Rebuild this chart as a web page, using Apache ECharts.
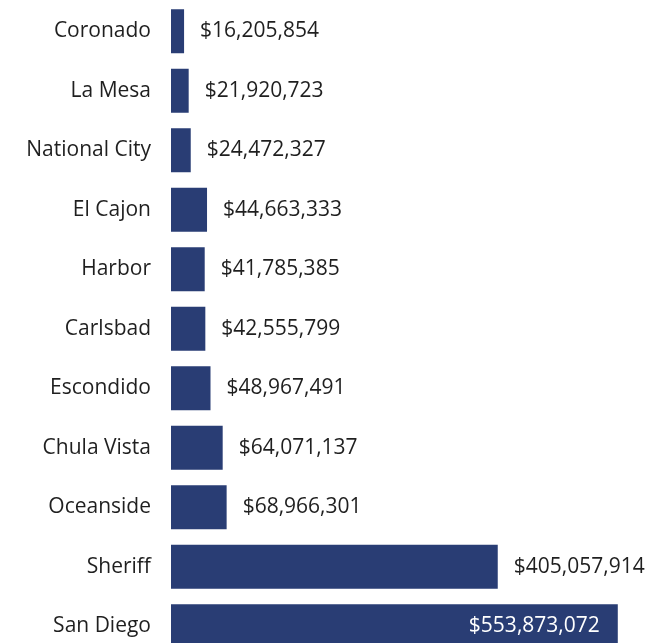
<!DOCTYPE html>
<html>
<head>
<meta charset="utf-8">
<script src="https://cdn.jsdelivr.net/npm/echarts@6/dist/echarts.min.js"></script>
<style>
  html, body { margin: 0; padding: 0; background: #ffffff; }
  #chart { width: 653px; height: 643px; }
</style>
</head>
<body>
<div id="chart"></div>
<script>
// Agencies, listed top to bottom
const agencies = [
  'Coronado', 'La Mesa', 'National City', 'El Cajon', 'Harbor', 'Carlsbad',
  'Escondido', 'Chula Vista', 'Oceanside', 'Sheriff', 'San Diego'
];
// Budget amounts in dollars
const budgets = [
  16205854, 21920723, 24472327, 44663333, 41785385, 42555799,
  48967491, 64071137, 68966301, 405057914, 553873072
];

const BAR_COLOR = '#293d74';
const TEXT_COLOR = '#1f1f1f';
const FONT = '"Open Sans", "Noto Sans", sans-serif';

const fmt = v => '$' + v.toLocaleString('en-US');
const largest = Math.max(...budgets);

const chart = echarts.init(document.getElementById('chart'), null, { renderer: 'canvas' });

// The plot runs past the lower edge, so the last bar is cut off there
chart.setOption({
  animation: false,
  backgroundColor: '#ffffff',
  grid: {
    left: 171, top: 1.5, width: 484, bottom: -13,
    containLabel: false,
    outerBoundsMode: 'none'
  },
  xAxis: {
    type: 'value',
    min: 0,
    max: 600000000,
    show: false
  },
  yAxis: {
    type: 'category',
    inverse: true,
    data: agencies,
    axisLine: { show: false },
    axisTick: { show: false },
    splitLine: { show: false },
    axisLabel: {
      margin: 20,
      color: TEXT_COLOR,
      fontFamily: FONT,
      fontSize: 21
    }
  },
  series: [{
    type: 'bar',
    barWidth: 44,
    itemStyle: { color: BAR_COLOR },
    data: budgets.map(v => v === largest
      ? { value: v, label: { position: 'insideRight', distance: 18, color: '#ffffff' } }
      : v),
    label: {
      show: true,
      position: 'right',
      distance: 16,
      color: TEXT_COLOR,
      fontFamily: FONT,
      fontSize: 21,
      formatter: p => fmt(p.value)
    }
  }]
});
</script>
</body>
</html>
